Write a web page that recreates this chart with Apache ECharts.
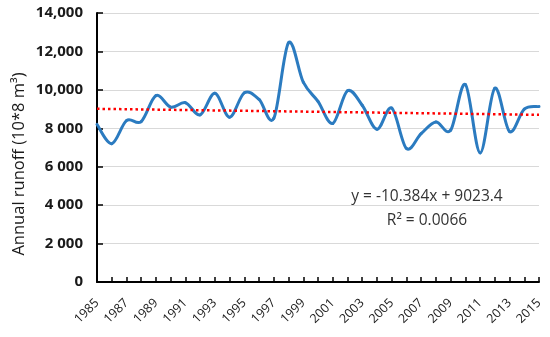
<!DOCTYPE html>
<html>
<head>
<meta charset="utf-8">
<script src="https://cdn.jsdelivr.net/npm/echarts@6/dist/echarts.min.js"></script>
<style>html,body{margin:0;padding:0;background:#fff}#c{width:550px;height:337px}</style>
</head>
<body>
<div id="c"></div>
<script>
const years = ['1985','1986','1987','1988','1989','1990','1991','1992','1993','1994','1995','1996','1997','1998','1999','2000','2001','2002','2003','2004','2005','2006','2007','2008','2009','2010','2011','2012','2013','2014','2015'];
const runoff = [8200,7200,8400,8350,9700,9100,9330,8700,9820,8580,9850,9500,8520,12450,10400,9400,8250,9950,9200,7950,9050,6950,7720,8330,7900,10280,6720,10080,7830,9000,9130];
const trendSlope = -10.384;
const trendIntercept = 9023.4;
const yTickLabels = {0:'0',2000:'2 000',4000:'4 000',6000:'6 000',8000:'8 000',10000:'10,000',12000:'12,000',14000:'14,000'};
const yAxisTitle = 'Annual runoff (10*8 m³)';
const eqText = 'y = -10.384x + 9023.4';
const r2Text = 'R² = 0.0066';

const font = '"Open Sans", Lato, sans-serif';
const chart = echarts.init(document.getElementById('c'));
const n = years.length;

function renderSmooth(params, api) {
  const pts = runoff.map((v, i) => api.coord([i, v]));
  const children = [];
  for (let i = 0; i < pts.length - 1; i++) {
    const p0 = pts[Math.max(i - 1, 0)], p1 = pts[i], p2 = pts[i + 1], p3 = pts[Math.min(i + 2, pts.length - 1)];
    children.push({
      type: 'bezierCurve',
      shape: {
        x1: p1[0], y1: p1[1], x2: p2[0], y2: p2[1],
        cpx1: p1[0] + (p2[0] - p0[0]) / 6, cpy1: p1[1] + (p2[1] - p0[1]) / 6,
        cpx2: p2[0] - (p3[0] - p1[0]) / 6, cpy2: p2[1] - (p3[1] - p1[1]) / 6
      },
      style: {stroke: '#2b7bc0', lineWidth: 3, fill: null, lineCap: 'round'}
    });
  }
  return {type: 'group', children: children};
}

chart.setOption({
  animation: false,
  grid: {left: 97, right: 11, top: 13, bottom: 55},
  xAxis: {
    type: 'category', data: years, boundaryGap: false,
    axisLine: {lineStyle: {color: '#000', width: 2}},
    axisTick: {inside: true, interval: 0, length: 5, lineStyle: {color: '#000', width: 1.5}},
    axisLabel: {interval: 1, rotate: 45, fontSize: 12.5, color: '#1a1a1a', fontFamily: font, margin: 19},
    splitLine: {show: false}
  },
  yAxis: {
    type: 'value', min: 0, max: 14000, interval: 2000,
    axisLine: {show: true, lineStyle: {color: '#000', width: 2}},
    axisTick: {show: true, inside: true, length: 6, lineStyle: {color: '#000', width: 1.5}},
    axisLabel: {fontSize: 15, fontWeight: 'bold', color: '#1a1a1a', fontFamily: font, margin: 14,
      formatter: v => yTickLabels[v] !== undefined ? yTickLabels[v] : ''},
    splitLine: {show: true, lineStyle: {color: '#d9d9d9', width: 1.2}}
  },
  series: [
    {
      type: 'custom', data: [[0, runoff[0]]], renderItem: renderSmooth, silent: true, z: 3, clip: false
    },
    {
      type: 'line', data: [], symbol: 'none',
      markLine: {
        silent: true, symbol: 'none', label: {show: false},
        lineStyle: {color: '#ff0000', width: 2.5, type: [2.5, 3]},
        data: [[
          {coord: [years[0], trendSlope * 1 + trendIntercept]},
          {coord: [years[n-1], trendSlope * n + trendIntercept]}
        ]]
      },
      z: 2
    }
  ],
  graphic: [
    {type: 'text', x: 19, y: 164, rotation: Math.PI / 2, style: {text: yAxisTitle, fontSize: 16.5, fill: '#1a1a1a', fontFamily: font, align: 'center', verticalAlign: 'middle'}},
    {type: 'text', x: 427, y: 197, style: {text: eqText, fontSize: 15.5, fill: '#333', fontFamily: font, align: 'center', verticalAlign: 'middle'}},
    {type: 'text', x: 427, y: 221, style: {text: r2Text, fontSize: 15.5, fill: '#333', fontFamily: font, align: 'center', verticalAlign: 'middle'}}
  ]
});
</script>
</body>
</html>
